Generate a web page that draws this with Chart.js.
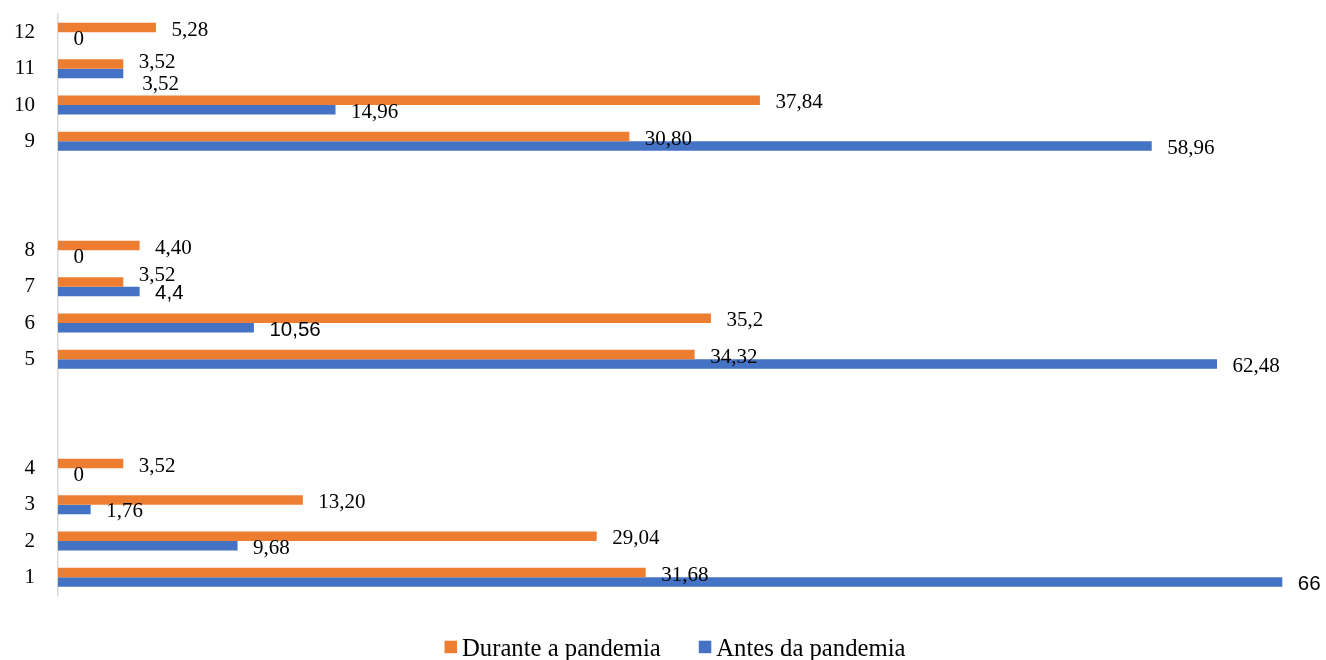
<!DOCTYPE html>
<html>
<head>
<meta charset="utf-8">
<script src="https://cdn.jsdelivr.net/npm/chart.js@4/dist/chart.umd.min.js"></script>
<style>
  html, body { margin: 0; padding: 0; background: #ffffff; }
  canvas { display: block; }
</style>
</head>
<body>
<canvas id="chart" width="1326" height="660"></canvas>
<script>
// Categories listed bottom to top; the blank entries separate the three groups.
const categories = ['1', '2', '3', '4', '', '', '5', '6', '7', '8', '', '', '9', '10', '11', '12'];

// Durante a pandemia
const duranteValues = [31.68, 29.04, 13.20, 3.52, null, null, 34.32, 35.2, 3.52, 4.40, null, null, 30.80, 37.84, 3.52, 5.28];
const duranteText   = ['31,68', '29,04', '13,20', '3,52', '', '', '34,32', '35,2', '3,52', '4,40', '', '', '30,80', '37,84', '3,52', '5,28'];

// Antes da pandemia
const antesValues = [66, 9.68, 1.76, 0, null, null, 62.48, 10.56, 4.4, 0, null, null, 58.96, 14.96, 3.52, 0];
const antesText   = ['66', '9,68', '1,76', '0', '', '', '62,48', '10,56', '4,4', '0', '', '', '58,96', '14,96', '3,52', '0'];

const seriesNames  = ['Durante a pandemia', 'Antes da pandemia'];
const seriesColors = ['#ED7D31', '#4472C4'];

// Chart.js lists horizontal categories top to bottom.
const topDown = arr => arr.slice().reverse();
const labelTexts = [topDown(duranteText), topDown(antesText)];

// Value-label styling: a few labels use a sans face or sit slightly off their bar.
const sansLabelCats = [[], ['1', '6', '7']];
const labelNudge = [
  { '11': [0, -4], '7': [0, -9] },
  { '11': [3.5, 8.5] }
];

const valueLabels = {
  id: 'valueLabels',
  afterDatasetsDraw(chart) {
    const ctx = chart.ctx;
    ctx.save();
    ctx.fillStyle = '#000000';
    ctx.textAlign = 'left';
    ctx.textBaseline = 'alphabetic';
    chart.data.datasets.forEach((ds, di) => {
      const meta = chart.getDatasetMeta(di);
      meta.data.forEach((bar, i) => {
        const text = labelTexts[di][i];
        if (!text) return;
        const cat = chart.data.labels[i];
        const sans = sansLabelCats[di].includes(cat);
        const n = labelNudge[di][cat] || [0, 0];
        ctx.font = sans ? '20.5px "Liberation Sans"' : '21px "Liberation Serif"';
        ctx.fillText(text, bar.x + 15.5 + n[0], bar.y + 8 + n[1]);
      });
    });
    ctx.restore();
  }
};

const legendRow = {
  id: 'legendRow',
  afterDraw(chart) {
    const ctx = chart.ctx;
    ctx.save();
    ctx.font = '24.7px "Liberation Serif"';
    ctx.textAlign = 'left';
    ctx.textBaseline = 'alphabetic';
    const box = 12.5, textGap = 5, itemGap = 38;
    const sets = chart.data.datasets;
    const widths = sets.map(d => ctx.measureText(d.label).width);
    const total = widths.reduce((s, w) => s + box + textGap + w, 0) + itemGap * (sets.length - 1);
    let x = 675 - total / 2;
    sets.forEach((d, i) => {
      ctx.fillStyle = d.backgroundColor;
      ctx.fillRect(x, 640.7, box, box);
      x += box + textGap;
      ctx.fillStyle = '#000000';
      ctx.fillText(d.label, x, 656);
      x += widths[i] + itemGap;
    });
    ctx.restore();
  }
};

new Chart(document.getElementById('chart'), {
  type: 'bar',
  data: {
    labels: topDown(categories),
    datasets: [
      { label: seriesNames[0], data: topDown(duranteValues), backgroundColor: seriesColors[0] },
      { label: seriesNames[1], data: topDown(antesValues), backgroundColor: seriesColors[1] }
    ]
  },
  options: {
    indexAxis: 'y',
    responsive: false,
    animation: false,
    layout: { padding: { top: 14.2, bottom: 64.5, left: 0, right: 6.6 } },
    datasets: { bar: { categoryPercentage: 0.523, barPercentage: 1, borderWidth: 0 } },
    plugins: {
      legend: { display: false },
      tooltip: { enabled: false }
    },
    scales: {
      x: { display: false, min: 0, max: 68 },
      y: {
        grid: { display: false, drawTicks: false },
        border: { display: true, color: '#d9d9d9', width: 1.5 },
        ticks: {
          autoSkip: false,
          color: '#000000',
          padding: 23,
          font: { family: 'Liberation Serif', size: 21 }
        },
        afterFit(scale) {
          scale.width = 58;
          scale.paddingTop = 0;
          scale.paddingBottom = 0;
        }
      }
    }
  },
  plugins: [valueLabels, legendRow]
});
</script>
</body>
</html>
